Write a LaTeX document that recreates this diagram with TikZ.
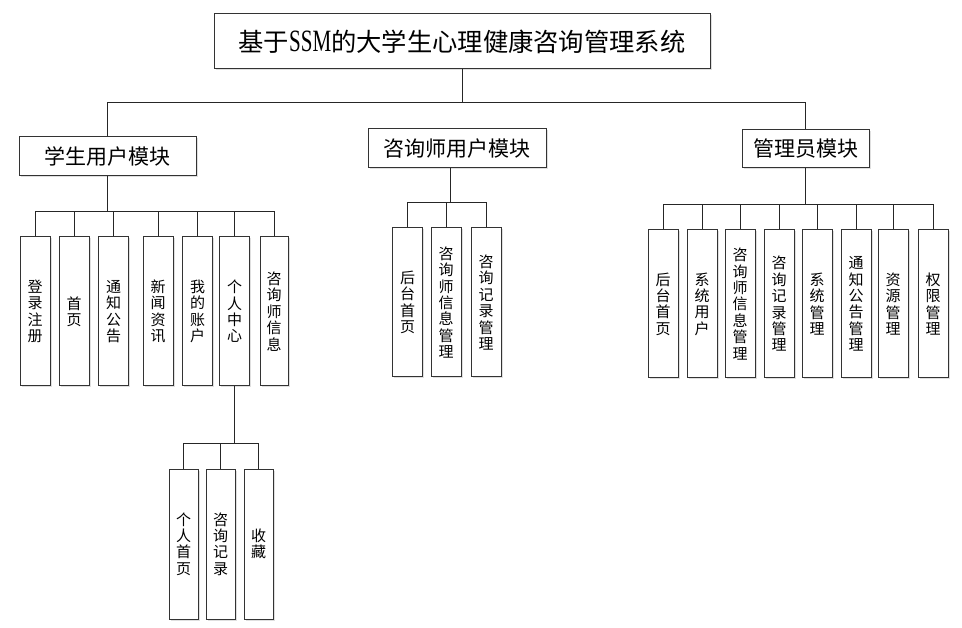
\documentclass[tikz,border=0pt]{standalone}
\usepackage{fontspec}
\setmainfont{Noto Sans CJK SC}
\newfontfamily\ssmfont[FakeStretch=0.68]{Liberation Serif}
\usetikzlibrary{positioning,shadows}

\tikzset{
    box/.style={draw=black!80, fill=white, line width=1pt, inner sep=0pt,
        drop shadow={shadow xshift=1.5pt, shadow yshift=-1.5pt, fill=black!25}},
    titlebox/.style={box, minimum width=496pt, minimum height=55pt,
        font=\fontsize{25.3}{28}\selectfont},
    modbox/.style={box, minimum height=39pt, font=\fontsize{21}{24}\selectfont},
    leafbox/.style={box, minimum width=30pt, minimum height=149pt, align=center,
        font=\fontsize{15}{16.4}\selectfont},
    link/.style={draw=black!85, line width=1pt}
}

\begin{document}
\begin{tikzpicture}[x=1pt, y=-1pt]
    \useasboundingbox (0,0) rectangle (962,628);

    % system
    \node[titlebox] (sys) at (462,41.5) {基于{\ssmfont\fontsize{31}{31}\selectfont SSM}的大学生心理健康咨询管理系统};

    % modules
    \node[modbox, minimum width=177pt] (stu) at (107.5,156.5) {学生用户模块};
    \node[modbox, minimum width=178pt] (cou) at (457,148.5) {咨询师用户模块};
    \node[modbox, minimum width=127pt, minimum height=38pt] (adm) at (805.5,149) {管理员模块};

    \coordinate (topbus) at (462,103);
    \draw[link] (sys.south) -- (topbus);
    \draw[link] (stu.north) |- (adm.north |- topbus) -- (adm.north);

    % student
    \node[leafbox] (s1) at (35,311.5) {登\\录\\注\\册};
    \node[leafbox] (s2) at (74,311.5) {首\\页};
    \node[leafbox] (s3) at (113.5,311.5) {通\\知\\公\\告};
    \node[leafbox] (s4) at (158,311.5) {新\\闻\\资\\讯};
    \node[leafbox] (s5) at (197.5,311.5) {我\\的\\账\\户};
    \node[leafbox] (s6) at (234.5,311.5) {个\\人\\中\\心};
    \node[leafbox, minimum width=28pt] (s7) at (274,311.5) {咨\\询\\师\\信\\息};

    \coordinate (sbus) at (107.5,212);
    \draw[link] (stu.south) -- (sbus);
    \draw[link] (s1.north) |- (s7.north |- sbus) -- (s7.north);
    \foreach \n in {s2,s3,s4,s5,s6}
        \draw[link] (\n.north) -- (\n.north |- sbus);

    % personal centre
    \node[leafbox, minimum width=29pt, minimum height=150pt] (p1) at (183.5,544) {个\\人\\首\\页};
    \node[leafbox, minimum width=29pt, minimum height=150pt] (p2) at (220.5,544) {咨\\询\\记\\录};
    \node[leafbox, minimum width=29pt, minimum height=150pt] (p3) at (258.5,544) {收\\藏};

    \coordinate (pbus) at (234.5,444);
    \draw[link] (s6.south) -- (pbus);
    \draw[link] (p1.north) |- (p3.north |- pbus) -- (p3.north);
    \draw[link] (p2.north) -- (p2.north |- pbus);

    % counsellor
    \node[leafbox] (c1) at (407.5,302.5) {后\\台\\首\\页};
    \node[leafbox] (c2) at (446,302.5) {咨\\询\\师\\信\\息\\管\\理};
    \node[leafbox] (c3) at (486,302.5) {咨\\询\\记\\录\\管\\理};

    \coordinate (cbus) at (450,203);
    \draw[link] (cbus |- cou.south) -- (cbus);
    \draw[link] (c1.north) |- (c3.north |- cbus) -- (c3.north);
    \draw[link] (c2.north) -- (c2.north |- cbus);

    % admin
    \node[leafbox, minimum height=148pt] (a1) at (663,304) {后\\台\\首\\页};
    \node[leafbox, minimum height=148pt] (a2) at (702,304) {系\\统\\用\\户};
    \node[leafbox, minimum height=148pt] (a3) at (740,304) {咨\\询\\师\\信\\息\\管\\理};
    \node[leafbox, minimum height=148pt] (a4) at (779,304) {咨\\询\\记\\录\\管\\理};
    \node[leafbox, minimum height=148pt] (a5) at (817,304) {系\\统\\管\\理};
    \node[leafbox, minimum height=148pt] (a6) at (856,304) {通\\知\\公\\告\\管\\理};
    \node[leafbox, minimum height=148pt] (a7) at (893,304) {资\\源\\管\\理};
    \node[leafbox, minimum height=148pt] (a8) at (933,304) {权\\限\\管\\理};

    \coordinate (abus) at (805.5,205);
    \draw[link] (adm.south) -- (abus);
    \draw[link] (a1.north) |- (a8.north |- abus) -- (a8.north);
    \foreach \n in {a2,a3,a4,a5,a6,a7}
        \draw[link] (\n.north) -- (\n.north |- abus);
\end{tikzpicture}
\end{document}
